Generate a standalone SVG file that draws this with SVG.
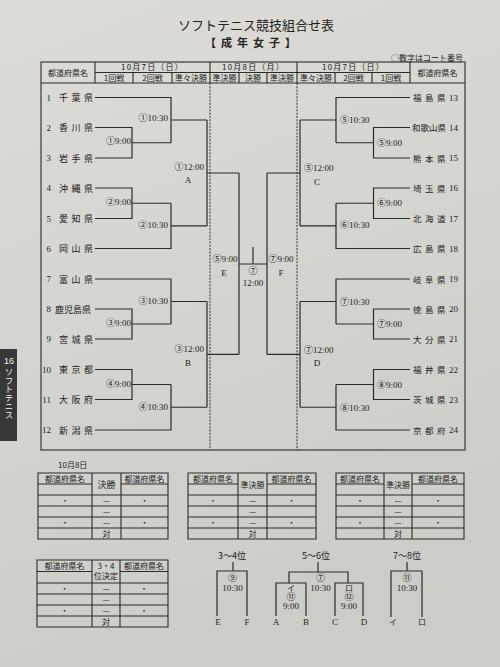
<svg xmlns="http://www.w3.org/2000/svg" width="500" height="667" viewBox="0 0 500 667">
<defs>
<linearGradient id="bg" x1="0" y1="0" x2="0.3" y2="1">
<stop offset="0" stop-color="#dddcd6"/>
<stop offset="1" stop-color="#cdcdc7"/>
</linearGradient>
<style>
.ln{stroke:#2b2b2b;stroke-width:1.2;fill:none}
.fr{stroke:#2b2b2b;stroke-width:1.1;fill:none}
.dash{stroke:#333;stroke-width:1;stroke-dasharray:2 1.3;fill:none}
.jp{font-family:"Noto Sans CJK JP","Noto Sans CJK SC",sans-serif;fill:#222}
.num{font-family:"Liberation Serif","Noto Sans CJK JP",serif;fill:#222}
.c{text-anchor:middle}
.e{text-anchor:end}
.s8{font-size:8px}
.s9{font-size:9px}
.tm{font-size:9px}
.tr{font-size:8.5px}
</style>
</defs>
<rect width="500" height="667" fill="url(#bg)"/>

<!-- title -->
<g id="title">
<text class="jp c" x="256" y="30" font-size="13">ソフトテニス競技組合せ表</text>
<text class="jp c" x="253" y="47" font-size="11" font-weight="bold" letter-spacing="5">【成年女子】</text>
<text class="jp e" x="463" y="61" font-size="8">○数字はコート番号</text>
</g>

<!-- header frame -->
<g id="header">
<rect class="fr" x="41" y="62" width="424" height="388"/>
<path class="fr" d="M41 83 H465 M95 72.5 H410 M95 62 V83 M210 62 V83 M297 62 V83 M410 62 V83 M133 72.5 V83 M172 72.5 V83 M239 72.5 V83 M267 72.5 V83 M335 72.5 V83 M372 72.5 V83"/>
<text class="jp c s8" x="68" y="75.5">都道府県名</text>
<text class="jp c s8" x="437.5" y="75.5">都道府県名</text>
<text class="jp c s8" x="152.5" y="70" letter-spacing="1.2">10月7日（日）</text>
<text class="jp c s8" x="253.5" y="70" letter-spacing="1.2">10月8日（月）</text>
<text class="jp c s8" x="353.5" y="70" letter-spacing="1.2">10月7日（日）</text>
<text class="jp c s8" x="114" y="80.5">1回戦</text>
<text class="jp c s8" x="152.5" y="80.5">2回戦</text>
<text class="jp c s8" x="191" y="80.5">準々決勝</text>
<text class="jp c s8" x="224.5" y="80.5">準決勝</text>
<text class="jp c s8" x="253" y="80.5">決勝</text>
<text class="jp c s8" x="282" y="80.5">準決勝</text>
<text class="jp c s8" x="316" y="80.5">準々決勝</text>
<text class="jp c s8" x="353.5" y="80.5">2回戦</text>
<text class="jp c s8" x="391" y="80.5">1回戦</text>
<path class="dash" d="M210 83 V450 M297 83 V450"/>
</g>

<!-- left teams -->
<g id="team-1"><text class="num e s9" x="51" y="100.5">1</text><text class="jp tm" x="59 71.5 84" y="101">千葉県</text></g>
<g id="team-2"><text class="num e s9" x="51" y="130.5">2</text><text class="jp tm" x="59 71.5 84" y="131">香川県</text></g>
<g id="team-3"><text class="num e s9" x="51" y="161">3</text><text class="jp tm" x="59 71.5 84" y="161.5">岩手県</text></g>
<g id="team-4"><text class="num e s9" x="51" y="191">4</text><text class="jp tm" x="59 71.5 84" y="191.5">沖縄県</text></g>
<g id="team-5"><text class="num e s9" x="51" y="221.5">5</text><text class="jp tm" x="59 71.5 84" y="222">愛知県</text></g>
<g id="team-6"><text class="num e s9" x="51" y="251.5">6</text><text class="jp tm" x="59 71.5 84" y="252">岡山県</text></g>
<g id="team-7"><text class="num e s9" x="51" y="282">7</text><text class="jp tm" x="59 71.5 84" y="282.5">富山県</text></g>
<g id="team-8"><text class="num e s9" x="51" y="312">8</text><text class="jp tm" x="55 64 73 82" y="312.5">鹿児島県</text></g>
<g id="team-9"><text class="num e s9" x="51" y="342">9</text><text class="jp tm" x="59 71.5 84" y="342.5">宮城県</text></g>
<g id="team-10"><text class="num e s9" x="51" y="372.5">10</text><text class="jp tm" x="59 71.5 84" y="373">東京都</text></g>
<g id="team-11"><text class="num e s9" x="51" y="402.5">11</text><text class="jp tm" x="59 71.5 84" y="403">大阪府</text></g>
<g id="team-12"><text class="num e s9" x="51" y="433">12</text><text class="jp tm" x="59 71.5 84" y="433.5">新潟県</text></g>

<!-- right teams -->
<g id="team-13"><text class="jp tr" x="413 425 437" y="101">福島県</text><text class="num s9" x="449" y="100.5">13</text></g>
<g id="team-14"><text class="jp tr" x="412 420.5 429 437.5" y="131">和歌山県</text><text class="num s9" x="449" y="130.5">14</text></g>
<g id="team-15"><text class="jp tr" x="413 425 437" y="161.5">熊本県</text><text class="num s9" x="449" y="161">15</text></g>
<g id="team-16"><text class="jp tr" x="413 425 437" y="191.5">埼玉県</text><text class="num s9" x="449" y="191">16</text></g>
<g id="team-17"><text class="jp tr" x="413 425 437" y="222">北海道</text><text class="num s9" x="449" y="221.5">17</text></g>
<g id="team-18"><text class="jp tr" x="413 425 437" y="252">広島県</text><text class="num s9" x="449" y="251.5">18</text></g>
<g id="team-19"><text class="jp tr" x="413 425 437" y="282.5">岐阜県</text><text class="num s9" x="449" y="282">19</text></g>
<g id="team-20"><text class="jp tr" x="413 425 437" y="312.5">徳島県</text><text class="num s9" x="449" y="312">20</text></g>
<g id="team-21"><text class="jp tr" x="413 425 437" y="342.5">大分県</text><text class="num s9" x="449" y="342">21</text></g>
<g id="team-22"><text class="jp tr" x="413 425 437" y="373">福井県</text><text class="num s9" x="449" y="372.5">22</text></g>
<g id="team-23"><text class="jp tr" x="413 425 437" y="403">茨城県</text><text class="num s9" x="449" y="402.5">23</text></g>
<g id="team-24"><text class="jp tr" x="413 425 437" y="433.5">京都府</text><text class="num s9" x="449" y="433">24</text></g>

<!-- connectors -->
<g id="connectors">
<path class="ln" d="M95 97.5 H171 V142.75 M95 127.5 H132 V158 H95 M132 142.75 H171 M171 120 H207
M95 188 H132 V218.5 H95 M132 203.25 H171 M95 248.5 H171 V203.25 M171 225.9 H207 M207 120 V225.9 M207 173 H239
M95 279 H171 V324 M95 309 H132 V339 H95 M132 324 H171 M171 301.5 H207
M95 369.5 H132 V399.5 H95 M132 384.5 H171 M95 430 H171 V384.5 M171 407.25 H207 M207 301.5 V407.25 M207 354.4 H239
M239 173 V354.4 M267 173 V354.4 M239 264 H267 M253 247 V264 M267 173 H300 M267 354.4 H300
M410 97.5 H336 V142.75 M410 127.5 H373.5 V158 H410 M373.5 142.75 H336 M336 120 H300
M410 188 H373.5 V218.5 H410 M373.5 203.25 H336 M410 248.5 H336 V203.25 M336 225.9 H300 M300 120 V225.9
M410 279 H336 V324 M410 309 H373.5 V339 H410 M373.5 324 H336 M336 301.5 H300
M410 369.5 H373.5 V399.5 H410 M373.5 384.5 H336 M410 430 H336 V384.5 M336 407.25 H300 M300 301.5 V407.25"/>
</g>

<!-- left matches -->
<g id="m-l1"><text class="num e s9" x="168" y="121">①10:30</text></g>
<g id="m-l2"><text class="num e s9" x="131" y="144">①9:00</text></g>
<g id="m-l3"><text class="num e s9" x="131" y="205">②9:00</text></g>
<g id="m-l4"><text class="num e s9" x="168" y="228">②10:30</text></g>
<g id="m-A"><text class="num e s9" x="204" y="170">①12:00</text><text class="num c s9" x="188" y="182.5">A</text></g>
<g id="m-l5"><text class="num e s9" x="168" y="304">③10:30</text></g>
<g id="m-l6"><text class="num e s9" x="131" y="326">③9:00</text></g>
<g id="m-l7"><text class="num e s9" x="131" y="387">④9:00</text></g>
<g id="m-l8"><text class="num e s9" x="168" y="410">④10:30</text></g>
<g id="m-B"><text class="num e s9" x="204" y="352">③12:00</text><text class="num c s9" x="188" y="365.5">B</text></g>

<!-- right matches -->
<g id="m-r1"><text class="num s9" x="340" y="123">⑤10:30</text></g>
<g id="m-r2"><text class="num s9" x="377" y="146">⑤9:00</text></g>
<g id="m-r3"><text class="num s9" x="377" y="206">⑥9:00</text></g>
<g id="m-r4"><text class="num s9" x="340" y="228">⑥10:30</text></g>
<g id="m-C"><text class="num s9" x="304" y="171">⑤12:00</text><text class="num c s9" x="317" y="184.5">C</text></g>
<g id="m-r5"><text class="num s9" x="340" y="305">⑦10:30</text></g>
<g id="m-r6"><text class="num s9" x="377" y="327">⑦9:00</text></g>
<g id="m-r7"><text class="num s9" x="377" y="388">⑧9:00</text></g>
<g id="m-r8"><text class="num s9" x="340" y="411">⑧10:30</text></g>
<g id="m-D"><text class="num s9" x="304" y="353">⑦12:00</text><text class="num c s9" x="317" y="365.5">D</text></g>

<!-- center -->
<g id="m-E"><text class="num c s9" x="225" y="262">⑤9:00</text><text class="num c s9" x="224" y="275.5">E</text></g>
<g id="m-F"><text class="num c s9" x="281" y="262">⑦9:00</text><text class="num c s9" x="281" y="275.5">F</text></g>
<g id="m-final"><text class="num c s9" x="253" y="273.5">⑦</text><text class="num c s9" x="253" y="286">12:00</text></g>

<!-- side tab -->
<g id="side-tab">
<rect x="0" y="349" width="17" height="92" fill="#383838"/>
<text x="9" y="364" font-size="9" fill="#f2f2f2" font-family="Liberation Sans, sans-serif" text-anchor="middle">16</text>
<text x="9" y="368" font-size="8.5" fill="#f2f2f2" font-family="Noto Sans CJK JP, sans-serif" style="writing-mode:vertical-rl">ソフトテニス</text>
</g>

<!-- bottom tables -->
<text class="jp s8" x="58" y="468">10月8日</text>
<g id="table-final">
<path class="fr" d="M38 473 H168 V539 H38 Z M92 473 V539 M121 473 V539 M38 484 H92 M121 484 H168 M38 495 H168 M38 506 H168 M38 517 H168 M38 528 H168"/>
<text class="jp c s8" x="65" y="481.5">都道府県名</text><text class="jp c s8" x="144.5" y="481.5">都道府県名</text>
<text class="jp c s9" x="106.5" y="487.5">決勝</text>
<text class="jp c s8" x="65" y="503.5">・</text><text class="jp c s8" x="144.5" y="503.5">・</text>
<text class="jp c s8" x="65" y="525.5">・</text><text class="jp c s8" x="144.5" y="525.5">・</text>
<text class="jp c s8" x="106.5" y="503.5">—</text><text class="jp c s8" x="106.5" y="514.5">—</text><text class="jp c s8" x="106.5" y="525.5">—</text>
<text class="jp c s8" x="106.5" y="536.5">対</text>
</g>
<g id="table-semi1">
<path class="fr" d="M188 473 H316 V539 H188 Z M238 473 V539 M267 473 V539 M188 484 H238 M267 484 H316 M188 495 H316 M188 506 H316 M188 517 H316 M188 528 H316"/>
<text class="jp c s8" x="213" y="481.5">都道府県名</text><text class="jp c s8" x="291.5" y="481.5">都道府県名</text>
<text class="jp c s8" x="252.5" y="487.5">準決勝</text>
<text class="jp c s8" x="213" y="503.5">・</text><text class="jp c s8" x="291.5" y="503.5">・</text>
<text class="jp c s8" x="213" y="525.5">・</text><text class="jp c s8" x="291.5" y="525.5">・</text>
<text class="jp c s8" x="252.5" y="503.5">—</text><text class="jp c s8" x="252.5" y="514.5">—</text><text class="jp c s8" x="252.5" y="525.5">—</text>
<text class="jp c s8" x="252.5" y="536.5">対</text>
</g>
<g id="table-semi2">
<path class="fr" d="M336 473 H464 V539 H336 Z M384 473 V539 M412 473 V539 M336 484 H384 M412 484 H464 M336 495 H464 M336 506 H464 M336 517 H464 M336 528 H464"/>
<text class="jp c s8" x="360" y="481.5">都道府県名</text><text class="jp c s8" x="438" y="481.5">都道府県名</text>
<text class="jp c s8" x="398" y="487.5">準決勝</text>
<text class="jp c s8" x="360" y="503.5">・</text><text class="jp c s8" x="438" y="503.5">・</text>
<text class="jp c s8" x="360" y="525.5">・</text><text class="jp c s8" x="438" y="525.5">・</text>
<text class="jp c s8" x="398" y="503.5">—</text><text class="jp c s8" x="398" y="514.5">—</text><text class="jp c s8" x="398" y="525.5">—</text>
<text class="jp c s8" x="398" y="536.5">対</text>
</g>
<g id="table-34">
<path class="fr" d="M37 560 H168 V627 H37 Z M92 560 V627 M120 560 V627 M37 571.5 H92 M120 571.5 H168 M37 583 H168 M37 594 H168 M37 605 H168 M37 616 H168"/>
<text class="jp c s8" x="64.5" y="569">都道府県名</text><text class="jp c s8" x="144" y="569">都道府県名</text>
<text class="jp c s8" x="106" y="569">3・4</text>
<text class="jp c s8" x="106" y="579">位決定</text>
<text class="jp c s8" x="64.5" y="591.5">・</text><text class="jp c s8" x="144" y="591.5">・</text>
<text class="jp c s8" x="64.5" y="613.5">・</text><text class="jp c s8" x="144" y="613.5">・</text>
<text class="jp c s8" x="106" y="591.5">—</text><text class="jp c s8" x="106" y="602.5">—</text><text class="jp c s8" x="106" y="613.5">—</text>
<text class="jp c s8" x="106" y="624.5">対</text>
</g>

<!-- placement brackets -->
<g id="bracket-34">
<path class="ln" d="M233 562 V571 M217 616 V571 H247 V616"/>
<text class="jp c s9" x="232" y="559">3〜4位</text>
<text class="num c s9" x="232.5" y="581">⑨</text>
<text class="num c s9" x="232.5" y="591">10:30</text>
<text class="num c s9" x="218" y="625">E</text><text class="num c s9" x="247" y="625">F</text>
</g>
<g id="bracket-56">
<path class="ln" d="M318 562 V572 M289 583 V572 H348 V583 M276 616 V583 H306 V616 M335 616 V583 H363 V616"/>
<text class="jp c s9" x="316" y="559">5〜6位</text>
<text class="num c s9" x="320.5" y="581">⑦</text>
<text class="num c s9" x="320.5" y="591">10:30</text>
<text class="jp c s8" x="291" y="591">イ</text>
<text class="num c s9" x="291" y="599.5">⑪</text>
<text class="num c s9" x="291" y="609">9:00</text>
<text class="jp c s8" x="349" y="591">ロ</text>
<text class="num c s9" x="349" y="599.5">⑫</text>
<text class="num c s9" x="349" y="609">9:00</text>
<text class="num c s9" x="276" y="625">A</text><text class="num c s9" x="306" y="625">B</text>
<text class="num c s9" x="335" y="625">C</text><text class="num c s9" x="364" y="625">D</text>
</g>
<g id="bracket-78">
<path class="ln" d="M407 562 V571 M391 617 V571 H422 V617"/>
<text class="jp c s9" x="407" y="559">7〜8位</text>
<text class="num c s9" x="407" y="581">⑪</text>
<text class="num c s9" x="407" y="591">10:30</text>
<text class="jp c s8" x="393" y="625">イ</text><text class="jp c s8" x="422" y="625">ロ</text>
</g>
</svg>
